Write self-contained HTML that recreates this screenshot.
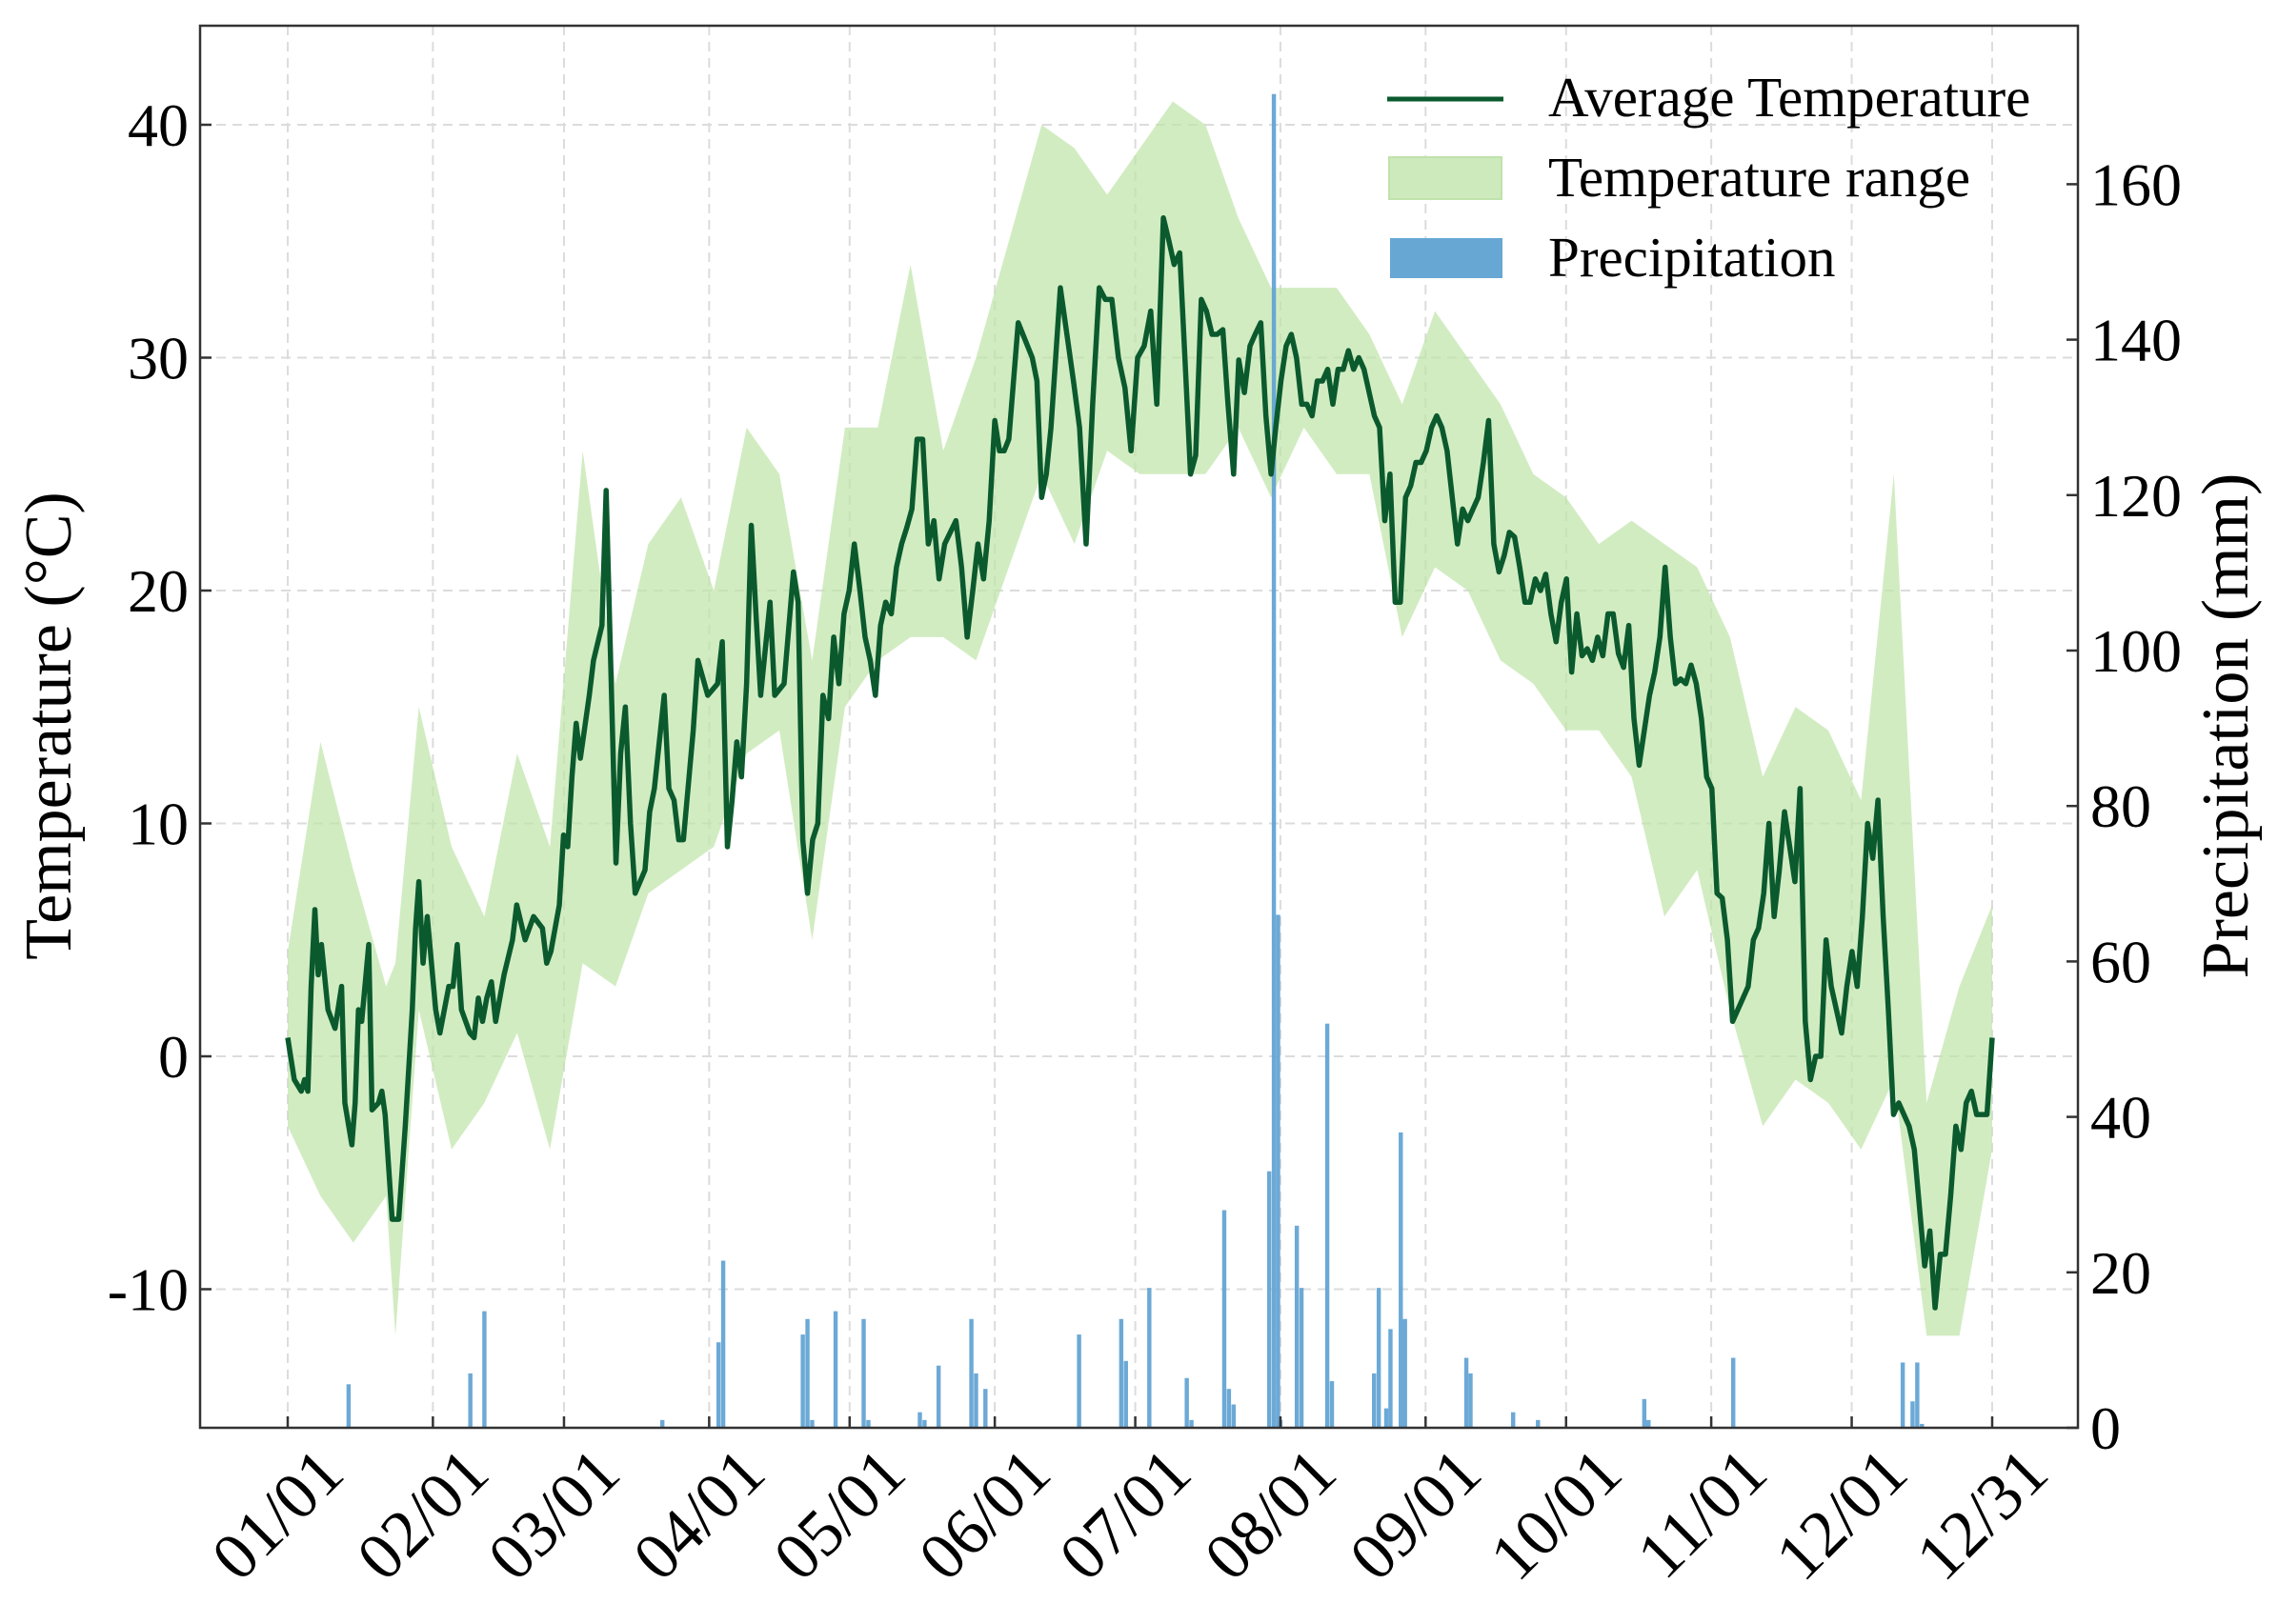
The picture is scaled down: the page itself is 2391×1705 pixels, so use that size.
<!DOCTYPE html>
<html><head><meta charset="utf-8"><style>
html,body{margin:0;padding:0;background:#fff;}
svg{display:block;font-family:"Liberation Serif",serif;}
</style></head><body>
<svg id="chart" width="2391" height="1705" viewBox="0 0 2391 1705" xmlns="http://www.w3.org/2000/svg">
<g id="grid"></g>
<g id="band"></g>
<g id="bars"></g>
<g id="line"></g>
<g id="axes"></g>
<text x="58" y="762" font-size="70" text-anchor="middle" transform="rotate(-90 58 762)" dominant-baseline="middle">Temperature (°C)</text>
<text x="2343" y="762" font-size="70" text-anchor="middle" transform="rotate(-90 2343 762)" dominant-baseline="middle">Precipitation (mm)</text>
<g>
<g>
<line x1="1456" y1="104" x2="1578" y2="104" stroke="#0b5a2e" stroke-width="5"/>
<text x="1625" y="122" font-size="59">Average Temperature</text></g>
<g>
<rect x="1458" y="165" width="118" height="44" fill="#cdeabd" stroke="#bfe3ab" stroke-width="2"/>
<text x="1625" y="206" font-size="59">Temperature range</text></g>
<g>
<rect x="1459" y="250" width="118" height="42" fill="#66a7d4"/>
<text x="1625" y="290" font-size="59">Precipitation</text></g>
</g>
</svg>
<script>
const monthDays=[0,31,59,90,120,151,181,212,243,273,304,334,364];
const monthLabels=["01/01","02/01","03/01","04/01","05/01","06/01","07/01","08/01","09/01","10/01","11/01","12/01","12/31"];
const tempTicks=[-10,0,10,20,30,40];
const precipTicks=[0,20,40,60,80,100,120,140,160];
const avgDaysA=[0,1.4,2.9,3.6,4.3,5,5.8,6.5,7.2,8.6,10.1,11.5,12.2,13.7,14.4,15.1,15.8,17.3,18,19.4,20.1,20.8,22.3,23.7,25.1,26.6,27.3,28,28.9,29.8,31.6,32.5,34.4,35.3,36.2,37.1,38.9,39.8,40.7,41.6,42.5,43.5,44.4,46.2,48,48.9,50.7,52.5,54.4,55.3,56.2,58,58.9,59.8,60.7,61.6,62.5,64.4,65.3,67.1,68,70.1,71.1,72.1,73.2,74.2,76.3,77.3,78.3,80.4,81.4,82.5,83.5,84.5,86.6,87.6,89.7,91.8,92.8,93.9,94.9,95.9,96.9,98,99,100,101,102,103,104,106,108,109,110,111,112.1,113.2,114.3,115.5,116.6,117.7,118.8,119.9,121,122.2,123.3,124.4,125.5,126.6,127.7,128.9,130,131.1,132.2,133.3,134.4,135.6,136.8,138,139.1,140.3,141.5,142.7,143.9,145.1,146.3,147.4,148.6,149.8,151,152,153,154,155,156,157,158,159,160,161,162,163,164,165,166.4,167.8,169.1,170.5,171.9,173.3,174.6,176,177.4,178.8,180.1,181.5,182.9,184.3,185.6,187,188.2,189.3,190.5,191.6,192.8,193.9,195.1,196.2,197.4,198.5,199.7,200.8,202,203.1,204.3,205.5,206.6,207.8,208.9,210];
const avgTempA=[0.8,-1,-1.5,-1,-1.5,3,6.3,3.5,4.8,2,1.2,3,-2,-3.8,-2,2,1.5,4.8,-2.3,-2,-1.5,-2.5,-7,-7,-3,2,5.5,7.5,4,6,2,1,3,3,4.8,2,1,0.8,2.5,1.5,2.5,3.2,1.5,3.5,5,6.5,5,6,5.5,4,4.5,6.5,9.5,9,12,14.3,12.8,15.5,17,18.5,24.3,8.3,13,15,10,7,8,10.5,11.5,15.5,11.5,11,9.3,9.3,14,17,15.5,16,17.8,9,11,13.5,12,16,22.8,19,15.5,17.5,19.5,15.5,16,20.8,19.5,9.3,7,9.3,10,15.5,14.5,18,16,19,20,22,20,18,17,15.5,18.5,19.5,19,21,22,22.7,23.5,26.5,26.5,22,23,20.5,22,22.5,23,21,18,20,22,20.5,23,27.3,26,26,26.5,29,31.5,31,30.5,30,29,24,25,27,30,33,31,29,27,22,28,33,32.5,32.5,30,28.7,26,30,30.5,32,28,36,35,34,34.5,30,25,25.8,32.5,32,31,31,31.2,28,25,29.9,28.5,30.5,31,31.5,27.5,25];
const avgStartB=211, avgEndB=364;
const avgTempB=[27,29,30.5,31,30,28,28,27.5,29,29,29.5,28,29.5,29.5,30.3,29.5,30,29.5,28.5,27.5,27,23,25,19.5,19.5,24,24.5,25.5,25.5,26,27,27.5,27,26,24,22,23.5,23,23.5,24,25.5,27.3,22,20.8,21.5,22.5,22.3,21,19.5,19.5,20.5,20,20.7,19,17.8,19.5,20.5,16.5,19,17.2,17.5,17,18,17.2,19,19,17.3,16.7,18.5,14.5,12.5,14,15.5,16.5,18,21,18,16,16.2,16,16.8,16,14.5,12,11.5,7,6.8,5,1.5,2,2.5,3,5,5.5,7,10,6,8,10.5,9,7.5,11.5,1.5,-1,0,0,5,3,2,1,3,4.5,3,6,10,8.5,11,6,2,-2.5,-2,-2.5,-3,-4,-6.5,-9,-7.5,-10.8,-8.5,-8.5,-6,-3,-4,-2,-1.5,-2.5,-2.5,-2.5,0.8];
const bandDays=[0,7,14,21,23,28,35,42,49,56,63,70,77,84,91,98,105,112,119,126,133,140,147,154,161,168,175,182,189,196,203,210,217,224,231,238,245,252,259,266,273,280,287,294,301,308,315,322,329,336,343,350,357,364];
const bandHigh=[4.5,13.5,8,3,4,15,9,6,13,9,26,16,22,24,20,27,25,17,27,27,34,26,30,35,40,39,37,39,41,40,36,33,33,33,31,28,32,30,28,25,24,22,23,22,21,18,12,15,14,11,25,-2,3,6.5];
const bandLow=[-3,-6,-8,-6,-12,2,-4,-2,1,-4,4,3,7,8,9,13,14,5,15,17,18,18,17,21,25,22,26,25,25,25,27,24,27,25,25,18,21,20,17,16,14,14,12,6,8,2,-3,-1,-2,-4,-1,-12,-12,-4];
const precipDays=[13,39,42,80,92,93,110,111,112,117,123,124,135,136,139,146,147,149,169,178,179,184,192,193,200,201,202,209.6,210.6,211.5,212,215.5,216.5,222,223,232,233,234.6,235.5,237.7,238.6,251.7,252.6,261.7,267,289.7,290.6,308.7,344.9,347,348,349];
const precipValues=[5.6,7,15,1,11,21.5,12,14,1,15,14,1,2,1,8,14,7,5,12,14,8.6,18,6.4,1,28,5,3,33,171.6,66,1,26,18,52,6,7,18,2.5,12.7,38,14,9,7,2,1,3.7,1,9,8.4,3.4,8.4,0.5];

const L=210,R=2181,T=27,B=1499;
const xS=d=>302+d*(2091-302)/364;
const yT=t=>1109-t*24.45;
const yP=p=>1499-p*8.16;
const NS="http://www.w3.org/2000/svg";
function mk(tag,attrs,parent){const e=document.createElementNS(NS,tag);for(const k in attrs)e.setAttribute(k,attrs[k]);parent.appendChild(e);return e;}
const grid=document.getElementById('grid'),axes=document.getElementById('axes');
tempTicks.forEach(t=>{const g=mk('line',{x1:L,x2:R,y1:yT(t),y2:yT(t),stroke:'#dcdcdc','stroke-width':2,'stroke-dasharray':'10,7'},grid);

});
monthDays.forEach(d=>{const g=mk('line',{x1:xS(d),x2:xS(d),y1:T,y2:B,stroke:'#dcdcdc','stroke-width':2,'stroke-dasharray':'10,7'},grid);

});
let pts=bandDays.map((d,i)=>xS(d)+','+yT(bandHigh[i]));
for(let i=bandDays.length-1;i>=0;i--)pts.push(xS(bandDays[i])+','+yT(bandLow[i]));
const bp=mk('polygon',{points:pts.join(' '),fill:'#bfe4a8','fill-opacity':0.7},document.getElementById('band'));


const bars=document.getElementById('bars');const bw=(2091-302)/364*0.9;
precipDays.forEach((d,i)=>{const r=mk('rect',{x:xS(d)-bw/2,y:yP(precipValues[i]),width:bw,height:yP(0)-yP(precipValues[i]),fill:'#5fa2d3','fill-opacity':0.92},bars);

});
const lp=[];avgDaysA.forEach((d,i)=>lp.push(xS(d)+','+yT(avgTempA[i])));
avgTempB.forEach((v,i)=>{const d=avgStartB+i*(avgEndB-avgStartB)/(avgTempB.length-1);lp.push(xS(d)+','+yT(v));});
const pl=mk('polyline',{points:lp.join(' '),fill:'none',stroke:'#0b5a2e','stroke-width':5.5,'stroke-linejoin':'round'},document.getElementById('line'));


const fr=mk('rect',{x:L,y:T,width:R-L,height:B-T,fill:'none',stroke:'#333','stroke-width':2.5},axes);


tempTicks.forEach(t=>{mk('line',{x1:L,x2:L+12,y1:yT(t),y2:yT(t),stroke:'#333','stroke-width':2.5},axes);
const tx=mk('text',{x:198,y:yT(t)+22,'font-size':64,'text-anchor':'end'},axes);tx.textContent=t;

});
precipTicks.forEach(p=>{mk('line',{x1:R-12,x2:R,y1:yP(p),y2:yP(p),stroke:'#333','stroke-width':2.5},axes);
const tx=mk('text',{x:2194,y:yP(p)+22,'font-size':64},axes);tx.textContent=p;

});
monthDays.forEach((d,i)=>{mk('line',{x1:xS(d),x2:xS(d),y1:B-12,y2:B,stroke:'#333','stroke-width':2.5},axes);
const ax=xS(d)+62,ay=1550;
const tx=mk('text',{x:ax,y:ay,'font-size':70,'text-anchor':'end',transform:`rotate(-45 ${ax} ${ay})`},axes);tx.textContent=monthLabels[i];

});
</script>
</body></html>
